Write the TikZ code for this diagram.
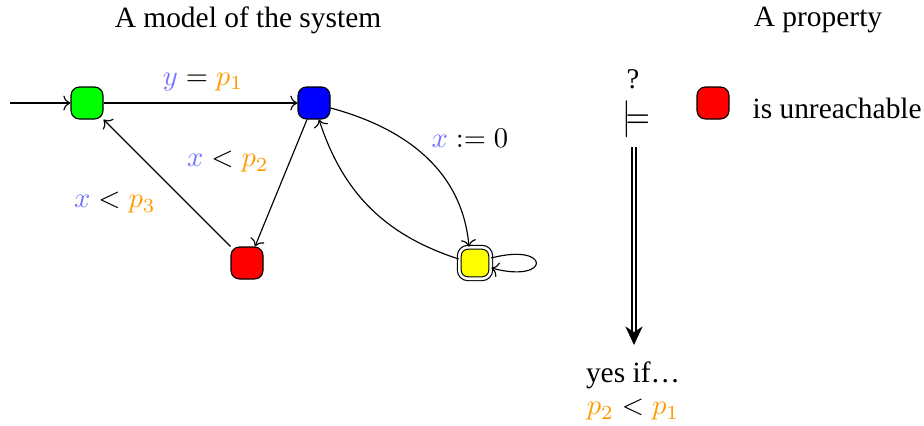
\documentclass[tikz,border=0pt]{standalone}
\usepackage{fontspec}
\setmainfont{Liberation Serif}
\usetikzlibrary{arrows.meta}
\definecolor{vblue}{RGB}{115,115,255}
\definecolor{porange}{RGB}{255,153,0}
\definecolor{sgreen}{RGB}{0,255,0}
\definecolor{sblue}{RGB}{0,0,255}
\definecolor{sred}{RGB}{255,0,0}
\definecolor{syellow}{RGB}{255,255,0}
\newcommand{\vx}{{\color{vblue}x}}
\newcommand{\vy}{{\color{vblue}y}}
\newcommand{\pp}[1]{{\color{porange}p_{#1}}}
\begin{document}
\begin{tikzpicture}[x=0.35pt,y=-0.35pt,
  state/.style={draw=black,rounded corners=3pt,minimum size=11.2pt,inner sep=0pt},
  edge/.style={->,line width=0.4pt},
  lbl/.style={inner sep=0pt,font=\fontsize{10}{12}\selectfont},
  title/.style={inner sep=0pt,font=\fontsize{10.3}{12}\selectfont}]
\useasboundingbox (0,0) rectangle (924,425);
% titles
\node[title] (t1) at (248,20) {A model of the system};
\node[title] (t2) at (818,20) {A property};
% states
\node[state,fill=sgreen] (g) at (87,103) {};
\node[state,fill=sblue] (b) at (314,103) {};
\node[state,fill=sred] (r) at (247,263) {};
\node[state,fill=syellow,double=white,double distance=0.9pt,minimum size=11pt] (yl) at (475,263) {};
\coordinate (init) at (10,103);
% edges
\draw[edge] (init) -- (g);
\draw[edge] (g) -- (b);
\draw[edge] ([xshift=-7*0.35pt]b.south) -- ([xshift=8*0.35pt]r.north);
\draw[edge] (r.north west) -- (g.south east);
\draw[edge] ([yshift=-5*0.35pt]b.east) to[out=-15,in=95] ([xshift=-6*0.35pt]yl.north);
\draw[edge] ([yshift=4*0.35pt]yl.west) to[out=162,in=-72] ([xshift=5*0.35pt]b.south);
\draw[edge] ([yshift=5*0.35pt]yl.east) .. controls +(60,-16) and +(60,16) .. ([yshift=-5*0.35pt]yl.east);
% labels
\node[lbl] (l1) at (203,82) {$\vy = \pp{1}$};
\node[lbl] (l2) at (470,138) {$\vx := 0$};
\node[lbl] (l3) at (228,162) {$\vx < \pp{2}$};
\node[lbl] (l4) at (115,203) {$\vx < \pp{3}$};
% property
\node[lbl] (q) at (633,79) {?};
\node[lbl] (m) at (636,119) {\scalebox{1.1}[1.3]{$\models$}};
\node[state,fill=sred] (pr) at (713,103) {};
\node[title,anchor=base west] (u) at (752,118) {is unreachable};
\coordinate (ds) at (634,147);
\coordinate (de) at (634,345);
\draw[double,double distance=0.8pt,line width=0.5pt,-{Stealth[length=6.5pt,width=6pt,inset=2pt]}] (ds) -- (de);
\node[title,anchor=base] (yes) at (633,382) {yes if\dots};
\node[lbl] (res) at (633,410) {$\pp{2} < \pp{1}$};
\end{tikzpicture}
\end{document}
